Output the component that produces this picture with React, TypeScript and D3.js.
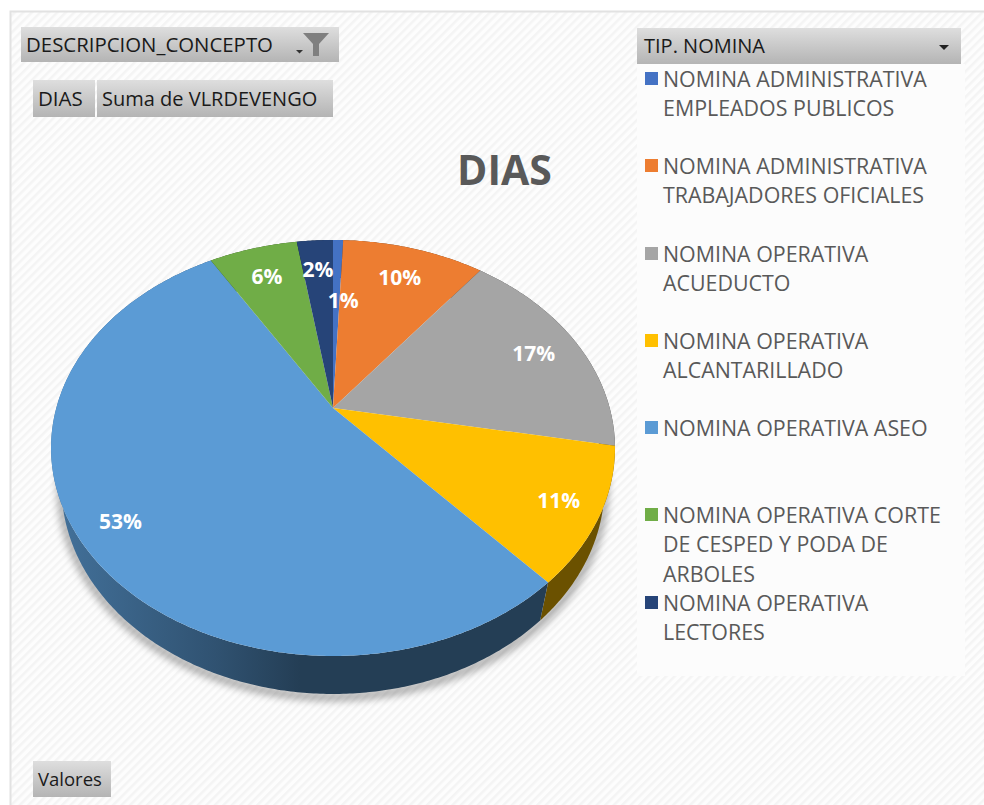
import React from "react";
import * as d3 from "d3";

const categories = [
  "NOMINA ADMINISTRATIVA EMPLEADOS PUBLICOS",
  "NOMINA ADMINISTRATIVA TRABAJADORES OFICIALES",
  "NOMINA OPERATIVA ACUEDUCTO",
  "NOMINA OPERATIVA ALCANTARILLADO",
  "NOMINA OPERATIVA ASEO",
  "NOMINA OPERATIVA CORTE DE CESPED Y PODA DE ARBOLES",
  "NOMINA OPERATIVA LECTORES",
];
const values = [0.7, 9.8, 17.4, 10.5, 53, 6.1, 2.49];
const colors = ["#4472c4", "#ed7d31", "#a5a5a5", "#ffc000", "#5b9bd5", "#70ad47", "#264478"];
const legendLines = [
  ["NOMINA ADMINISTRATIVA", "EMPLEADOS PUBLICOS"],
  ["NOMINA ADMINISTRATIVA", "TRABAJADORES OFICIALES"],
  ["NOMINA OPERATIVA", "ACUEDUCTO"],
  ["NOMINA OPERATIVA", "ALCANTARILLADO"],
  ["NOMINA OPERATIVA ASEO"],
  ["NOMINA OPERATIVA CORTE", "DE CESPED Y PODA DE", "ARBOLES"],
  ["NOMINA OPERATIVA", "LECTORES"],
];
const legendRowY = [79, 166, 254, 341, 428, 515, 603];
const labelRadius = [0.6, 0.8, 0.82, 0.86, 0.86, 0.8, 0.8];
const labelShiftX = [7, 0, 0, 0, 0, 0, 0];

const FONT = "'Open Sans', 'Noto Sans', sans-serif";
const CX = 333, CY = 408, A = 276.7, B = 200.3, K = -0.1923, DEPTH = 38, SHRINK = 0.963;

// perspective projection of the unit-circle pie onto the tilted plane
const project = (theta: number, r = 1): [number, number] => {
  const x = Math.sin(theta) * r, y = -Math.cos(theta) * r;
  const d = 1 + K * y;
  return [CX + (A * x) / d, CY + (B * y) / d];
};
const lower = ([x, y]: [number, number]): [number, number] => [CX + (x - CX) * SHRINK, y + DEPTH];
const line = d3.line<[number, number]>().x((d) => d[0]).y((d) => d[1]);
const arcPts = (a0: number, a1: number) => {
  const n = Math.max(2, Math.ceil((a1 - a0) / 0.01));
  return d3.range(n + 1).map((i) => project(a0 + ((a1 - a0) * i) / n));
};

const pie = d3.pie<number>().sort(null).value((d) => d)(values);
const total = d3.sum(values);

function Button({ x, y, w, h, text, tx, fs }: { x: number; y: number; w: number; h: number; text: string; tx?: number; fs: number }) {
  return (
    <g>
      <rect x={x} y={y} width={w} height={h} fill="url(#btn)" />
      <text x={tx ?? x + 5} y={y + h / 2 + 7} fontFamily={FONT} fontSize={fs} fill="#1a1a1a">{text}</text>
    </g>
  );
}

export default function App() {
  return (
    <svg width={984} height={805} style={{ position: "fixed", left: 0, top: 0, background: "#fff" }}>
      <defs>
        <pattern id="hatch" width={6} height={6} patternUnits="userSpaceOnUse" patternTransform="rotate(45)">
          <rect width={6} height={6} fill="#fdfdfd" />
          <rect width={2.5} height={6} fill="#f4f4f4" />
        </pattern>
        <linearGradient id="btn" x1="0" y1="0" x2="0" y2="1">
          <stop offset="0" stopColor="#dedede" />
          <stop offset="1" stopColor="#b4b4b4" />
        </linearGradient>
        <linearGradient id="blueWall" gradientUnits="userSpaceOnUse" x1={60} y1={0} x2={300} y2={0}>
          <stop offset="0" stopColor={d3.interpolateRgb(colors[4], "#000")(0.28)} />
          <stop offset="0.65" stopColor={d3.interpolateRgb(colors[4], "#000")(0.47)} />
          <stop offset="1" stopColor={d3.interpolateRgb(colors[4], "#000")(0.6)} />
        </linearGradient>
        <filter id="shadow" x="-10%" y="-10%" width="120%" height="120%">
          <feGaussianBlur stdDeviation={4} />
        </filter>
      </defs>
      <rect x={10.5} y={11.5} width={980} height={800} fill="url(#hatch)" stroke="#e2e2e2" strokeWidth={2} />
      <rect x={637} y={64} width={328} height={612} fill="#fcfcfc" />

      <Button x={21} y={27} w={318} h={35} text="DESCRIPCION_CONCEPTO" tx={26} fs={20.4} />
      <path d="M303 33 H329 L319 44 V56 H313 V44 Z" fill="#7f7f7f" />
      <path d="M296 50 H303 L299.5 53.5 Z" fill="#333" />
      <Button x={33} y={80} w={62} h={37} text="DIAS" tx={38} fs={20.5} />
      <Button x={97} y={80} w={236} h={37} text="Suma de VLRDEVENGO" tx={102} fs={20} />
      <Button x={637} y={28} w={324} h={36} text="TIP. NOMINA" tx={644} fs={20} />
      <path d="M939 45 H949 L944 50 Z" fill="#222" />
      <Button x={33} y={761} w={78} h={36} text="Valores" tx={38} fs={18.5} />

      <text x={504.5} y={185} textAnchor="middle" fontFamily={FONT} fontWeight={700} fontSize={41} fill="#595959">DIAS</text>

      {/* shadow + side wall */}
      <path
        d={line(arcPts(Math.PI / 2, Math.PI * 1.6).map(lower).map(([x, y]) => [x, y + 3] as [number, number])) ?? ""}
        fill="none" stroke="#000" strokeOpacity={0.45} strokeWidth={6} filter="url(#shadow)"
      />
      {pie.map((s, i) => {
        const top = arcPts(s.startAngle, s.endAngle);
        const d = (line(top.concat(top.map(lower).reverse())) ?? "") + "Z";
        const fill = i === 4 ? "url(#blueWall)" : d3.interpolateRgb(colors[i], "#000")(0.58);
        return <path key={categories[i]} d={d} fill={fill} />;
      })}

      {/* top surface */}
      {pie.map((s, i) => {
        const d = (line([[CX, CY] as [number, number], ...arcPts(s.startAngle, s.endAngle)]) ?? "") + "Z";
        return <path key={categories[i]} d={d} fill={colors[i]} />;
      })}

      {pie.map((s, i) => {
        const [x, y] = project((s.startAngle + s.endAngle) / 2, labelRadius[i]);
        return (
          <text key={categories[i]} x={x + labelShiftX[i]} y={y + 8} textAnchor="middle" fontFamily={FONT}
            fontWeight={700} fontSize={21} fill="#fff">
            {`${Math.round((values[i] / total) * 100)}%`}
          </text>
        );
      })}

      {/* legend */}
      {legendLines.map((lines, i) => (
        <g key={categories[i]}>
          <rect x={645} y={legendRowY[i] - 7} width={13} height={13} fill={colors[i]} />
          {lines.map((t, j) => (
            <text key={j} x={663} y={legendRowY[i] + 7.5 + j * 29.7} fontFamily={FONT} fontSize={21.4} fill="#595959">{t}</text>
          ))}
        </g>
      ))}
    </svg>
  );
}
